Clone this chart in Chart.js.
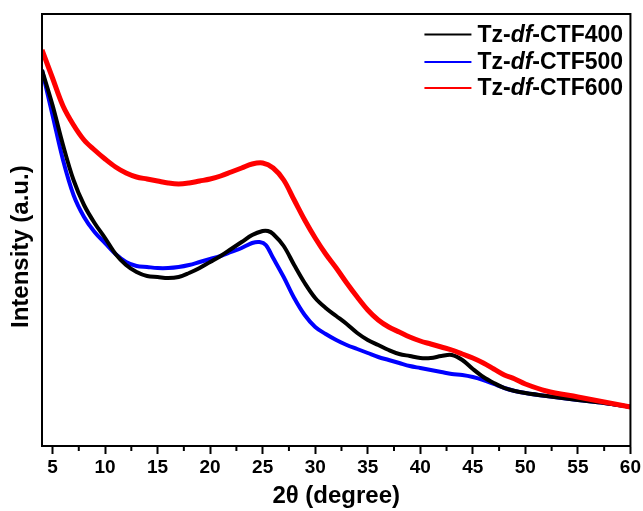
<!DOCTYPE html>
<html>
<head>
<meta charset="utf-8">
<script src="https://cdn.jsdelivr.net/npm/chart.js@4.4.1/dist/chart.umd.min.js"></script>
<style>
html,body{margin:0;padding:0;background:#fff;}
#wrap{width:643px;height:511px;}
</style>
</head>
<body>
<div id="wrap"><canvas id="c" width="643" height="511"></canvas></div>
<script>
// ---- data (2θ in degrees, intensity in arbitrary units) ----
const xTickLabels = [5,10,15,20,25,30,35,40,45,50,55,60];
const seriesNames = ['Tz-df-CTF400','Tz-df-CTF500','Tz-df-CTF600'];

const x400 = [4,5,6,7,8,9,10,11,12,13,14,15,16,17,18,19,20,21,22,23,24,25,25.5,26,27,28,29,30,31,32,33,34,35,36,37,38,39,40,41,42,43,44,45,46,47,48,49,50,52,55,57.5,60];
const y400 = [376,341,301,266,241,223,208,192,181,174,170,169,168,169,173,178,184,190,197,204,211,215,215,212,200,181,163,148,138,130,122,113,106,101,96,92,90,88,88,90,91,86,77,69,63,58,55,53,50,46,43,39];

const x500 = [4,5,6,7,8,9,10,11,12,13,14,15,16,17,18,19,20,21,22,23,24,24.7,25.3,26,27,28,29,30,31,32,33,34,35,36,37,38,39,40,41,42,43,44,45,46,47,48,49,50,52,55,57.5,60];
const y500 = [376,331,286,251,229,214,203,192,184,180,179,178,178,179,181,184,187,190,194,198,203,204,201,188,169,148,131,119,112,106,101,97,93,89,86,83,80,78,76,74,72,71,69,66,62,58,55,53,50,46,43,39];

const x600 = [4,5,6,7,8,9,10,11,12,13,14,15,16,17,18,19,20,21,22,23,24,25,26,27,28,29,30,31,32,33,34,35,36,37,38,39,40,41,42,43,44,45,46,47,48,49,50,52,55,57.5,60];
const y600 = [396,368,340,321,306,296,287,279,273,269,267,265,263,262,263,265,267,270,274,278,282,283,278,266,246,226,208,192,178,163,149,136,126,119,114,109,105,102,99,96,92,88,83,77,71,67,62,55,49,44,39];

const colors = ['#000000','#0000ff','#ff0000'];

function pts(xs, ys){ return xs.map((x,i)=>({x:x, y:ys[i]})); }

const FONT = '"Liberation Sans", Arial, sans-serif';

const framePlugin = {
  id: 'frame',
  afterDraw(chart){
    const {ctx, chartArea:a, scales} = chart;
    ctx.save();
    // frame
    ctx.strokeStyle = '#000';
    ctx.lineWidth = 2;
    ctx.strokeRect(a.left, a.top, a.right - a.left, a.bottom - a.top);
    // minor ticks
    const xs = scales.x;
    ctx.lineWidth = 2;
    for (let i = 0; i < xTickLabels.length - 1; i++){
      const v = (xTickLabels[i] + xTickLabels[i+1]) / 2;
      const px = xs.getPixelForValue(v);
      ctx.beginPath();
      ctx.moveTo(px, a.bottom);
      ctx.lineTo(px, a.bottom + 5);
      ctx.stroke();
    }
    // legend
    const rows = [a.top + 20.5, a.top + 48, a.top + 74];
    ctx.textBaseline = 'middle';
    seriesNames.forEach((name, i) => {
      const y = rows[i];
      ctx.strokeStyle = colors[i];
      ctx.lineWidth = 2;
      ctx.beginPath();
      ctx.moveTo(a.right - 206, y);
      ctx.lineTo(a.right - 159, y);
      ctx.stroke();
      const parts = name.split('-'); // Tz, df, CTF400
      let x = a.right - 153;
      const segs = [[parts[0] + '-', 'bold'], [parts[1], 'italic bold'], ['-' + parts[2], 'bold']];
      ctx.fillStyle = '#000';
      segs.forEach(([t, st]) => {
        ctx.font = st + ' 23px ' + FONT;
        ctx.fillText(t, x, y + 1);
        x += ctx.measureText(t).width;
      });
    });
    ctx.restore();
  }
};

new Chart(document.getElementById('c'), {
  type: 'line',
  data: {
    datasets: [
      {label: seriesNames[0], data: pts(x400, y400), borderColor: colors[0], borderWidth: 4, order: 2},
      {label: seriesNames[1], data: pts(x500, y500), borderColor: colors[1], borderWidth: 4, order: 3},
      {label: seriesNames[2], data: pts(x600, y600), borderColor: colors[2], borderWidth: 5, order: 1}
    ]
  },
  options: {
    responsive: false,
    animation: false,
    elements: { point: { radius: 0 }, line: { tension: 0.35, fill: false } },
    layout: { padding: { top: 14, right: 12, left: 0, bottom: 0 } },
    plugins: { legend: { display: false }, tooltip: { enabled: false } },
    scales: {
      x: {
        type: 'linear', min: 4, max: 60,
        afterBuildTicks(scale){ scale.ticks = xTickLabels.map(v => ({value: v})); },
        afterFit(scale){ scale.height = 65; },
        grid: { drawOnChartArea: false, drawTicks: true, tickLength: 8, tickWidth: 2, tickColor: '#000' },
        border: { display: true, color: '#000', width: 2 },
        ticks: { color: '#000', font: { family: FONT, size: 19, weight: 'bold' }, padding: 2, maxRotation: 0 },
        title: { display: true, text: '2θ (degree)', color: '#000', font: { family: FONT, size: 24, weight: 'bold' }, padding: { top: 0, bottom: 0 } }
      },
      y: {
        type: 'linear', min: 0, max: 432,
        afterFit(scale){ scale.width = 42; },
        grid: { display: false },
        border: { display: true, color: '#000', width: 2 },
        ticks: { display: false },
        title: { display: true, text: 'Intensity (a.u.)     ', color: '#000', font: { family: FONT, size: 24, weight: 'bold' }, padding: { top: 7, bottom: 0 } }
      }
    }
  },
  plugins: [framePlugin]
});
</script>
</body>
</html>
